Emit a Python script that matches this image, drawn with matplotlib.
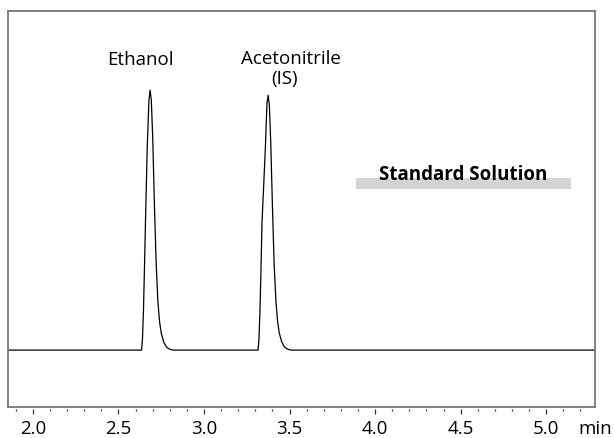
import matplotlib.pyplot as plt

plt.rcParams['font.family'] = ['Open Sans', 'DejaVu Sans']

# baseline of the chromatogram (min)
run_start = 1.857
run_end = 5.288

# ethanol peak, traced (min, relative response)
eth_t = [2.600, 2.635, 2.640, 2.646, 2.652, 2.658, 2.668, 2.678, 2.685,
         2.692, 2.700, 2.710, 2.720, 2.730, 2.740, 2.750, 2.765, 2.780,
         2.800, 2.820]
eth_y = [0.0, 0.0, 0.04, 0.15, 0.32, 0.50, 0.78, 0.96, 1.0,
         0.96, 0.82, 0.56, 0.34, 0.19, 0.11, 0.065, 0.03, 0.012,
         0.003, 0.0]

# acetonitrile (IS) peak, traced
acn_t = [3.280, 3.316, 3.321, 3.327, 3.333, 3.339, 3.358, 3.368, 3.375,
         3.382, 3.390, 3.400, 3.410, 3.420, 3.430, 3.440, 3.455, 3.470,
         3.490, 3.510]
acn_y = [0.0, 0.0, 0.04, 0.15, 0.31, 0.49, 0.77, 0.95, 0.98,
         0.94, 0.80, 0.55, 0.33, 0.19, 0.11, 0.065, 0.03, 0.012,
         0.003, 0.0]

major_ticks = [2.0, 2.5, 3.0, 3.5, 4.0, 4.5, 5.0]
minor_ticks = [1.9, 2.1, 2.2, 2.3, 2.4, 2.6, 2.7, 2.8, 2.9, 3.1, 3.2, 3.3,
               3.4, 3.6, 3.7, 3.8, 3.9, 4.1, 4.2, 4.3, 4.4, 4.6, 4.7, 4.8,
               4.9, 5.1, 5.2]

t = [run_start] + eth_t + acn_t + [run_end]
y = [0.0] + eth_y + acn_y + [0.0]

fig = plt.figure(figsize=(6.14, 4.38), dpi=100)
ax = fig.add_axes([0.0138, 0.0719, 0.956, 0.904])
ax.plot(t, y, color='black', lw=0.9)
ax.set_xlim(run_start, run_end)
ax.set_ylim(-0.217, 1.306)
ax.set_xticks([])
ax.set_yticks([])
for s in ax.spines.values():
    s.set_color('#777777')
    s.set_linewidth(1.3)

fs = 13.5

sec = ax.secondary_xaxis(-0.006)
sec.spines['bottom'].set_visible(False)
sec.set_xticks(major_ticks)
sec.set_xticklabels([f'{v:.1f}' for v in major_ticks])
sec.set_xticks(minor_ticks, minor=True)
sec.tick_params(which='major', length=3.3, width=0.9, color='#333333',
                labelsize=fs, pad=5)
sec.tick_params(which='minor', length=1.6, width=0.9, color='#333333')

ax.text(2.626, 1.115, 'Ethanol', ha='center', va='center', fontsize=fs)
ax.text(3.508, 1.12, 'Acetonitrile', ha='center', va='center', fontsize=fs)
ax.text(3.473, 1.042, '(IS)', ha='center', va='center', fontsize=fs)

ax.axhspan(0.62, 0.662, xmin=(3.89 - run_start) / (run_end - run_start),
           xmax=(5.147 - run_start) / (run_end - run_start),
           color='#d4d4d4', lw=0)
ax.text(4.515, 0.672, 'Standard Solution', ha='center', va='center',
        fontsize=fs, fontweight='bold')

fig.text(595 / 614, 1 - 429 / 438, 'min', ha='center', va='center',
         fontsize=fs)

fig.savefig('out.png')
